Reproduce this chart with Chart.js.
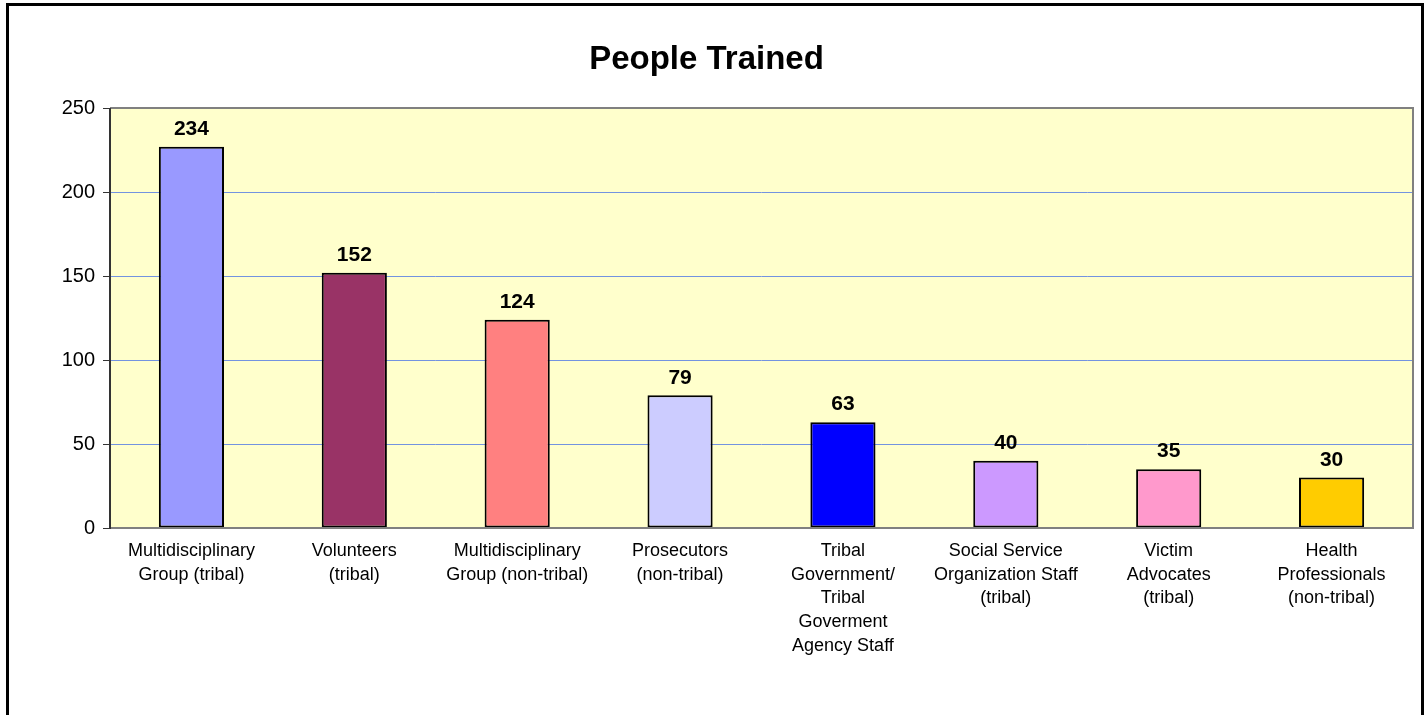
<!DOCTYPE html>
<html>
<head>
<meta charset="utf-8">
<script src="https://cdn.jsdelivr.net/npm/chart.js@4/dist/chart.umd.min.js"></script>
<style>
  html, body { margin: 0; padding: 0; background: #fff; }
  #wrap { width: 1427px; height: 715px; }
</style>
</head>
<body>
<div id="wrap"><canvas id="chart" width="1427" height="715"></canvas></div>
<script>
// categories (multi-line as in the original)
const categories = [
  ['Multidisciplinary', 'Group (tribal)'],
  ['Volunteers', '(tribal)'],
  ['Multidisciplinary', 'Group (non-tribal)'],
  ['Prosecutors', '(non-tribal)'],
  ['Tribal', 'Government/', 'Tribal', 'Goverment', 'Agency Staff'],
  ['Social Service', 'Organization Staff', '(tribal)'],
  ['Victim', 'Advocates', '(tribal)'],
  ['Health', 'Professionals', '(non-tribal)']
];
// bar heights as drawn, and the numbers printed above them
const barValues = [227, 152, 124, 79, 63, 40, 35, 30];
const labelValues = [234, 152, 124, 79, 63, 40, 35, 30];
const barColors = ['#9999ff', '#993366', '#ff8080', '#ccccff', '#0000ff', '#cc99ff', '#ff99cc', '#ffcc00'];
const yTicks = [0, 50, 100, 150, 200, 250];

const FONT = '"Liberation Sans", Arial, sans-serif';

// white page, black frame, yellow plot area
const framePlugin = {
  id: 'frame',
  beforeDraw(chart) {
    const ctx = chart.ctx;
    const a = chart.chartArea;
    ctx.save();
    ctx.fillStyle = '#fff';
    ctx.fillRect(0, 0, chart.width, chart.height);
    ctx.strokeStyle = '#000';
    ctx.lineWidth = 3;
    ctx.beginPath();
    ctx.moveTo(7.5, 720);
    ctx.lineTo(7.5, 4.5);
    ctx.lineTo(1422.5, 4.5);
    ctx.lineTo(1422.5, 720);
    ctx.stroke();
    ctx.fillStyle = '#ffffcc';
    ctx.fillRect(a.left, a.top, a.right - a.left, a.bottom - a.top);
    ctx.restore();
  },
  afterDatasetsDraw(chart) {
    const ctx = chart.ctx;
    const a = chart.chartArea;
    ctx.save();
    ctx.strokeStyle = '#808080';
    ctx.lineWidth = 2;
    ctx.beginPath();
    ctx.moveTo(a.left, a.top);
    ctx.lineTo(a.right, a.top);
    ctx.lineTo(a.right, a.bottom);
    ctx.lineTo(a.left, a.bottom);
    ctx.stroke();
    ctx.strokeStyle = '#333';
    ctx.beginPath();
    ctx.moveTo(a.left, a.top);
    ctx.lineTo(a.left, a.bottom + 1);
    ctx.stroke();
    // value labels
    ctx.fillStyle = '#000';
    ctx.font = 'bold 21px ' + FONT;
    ctx.textAlign = 'center';
    ctx.textBaseline = 'bottom';
    chart.getDatasetMeta(0).data.forEach((bar, i) => {
      ctx.fillText(String(labelValues[i]), bar.x, bar.y - 7);
    });
    ctx.restore();
  }
};

new Chart(document.getElementById('chart'), {
  type: 'bar',
  data: {
    labels: categories,
    datasets: [{
      label: 'People Trained',
      data: barValues,
      backgroundColor: barColors,
      borderColor: '#000',
      borderWidth: 2,
      borderSkipped: false,
      categoryPercentage: 1,
      barPercentage: 0.4
    }]
  },
  options: {
    responsive: false,
    animation: false,
    layout: { padding: { left: 0, right: 14, top: 0, bottom: 0 } },
    plugins: {
      legend: { display: false },
      tooltip: { enabled: false },
      title: {
        display: true,
        text: 'People Trained',
        color: '#000',
        font: { family: FONT, size: 33, weight: 'bold', lineHeight: 40 / 33 },
        padding: { top: 40, bottom: 28 }
      }
    },
    scales: {
      x: {
        grid: { display: false, drawTicks: false },
        border: { display: false },
        ticks: {
          color: '#000',
          font: { family: FONT, size: 18, lineHeight: 1.32 },
          maxRotation: 0,
          autoSkip: false,
          padding: 11
        },
        afterFit(scale) { scale.height = 187; }
      },
      y: {
        min: 0,
        max: 250,
        afterBuildTicks(scale) { scale.ticks = yTicks.map(v => ({ value: v })); },
        grid: {
          color: '#7393e0',
          lineWidth: 1,
          tickLength: 7,
          tickColor: '#333'
        },
        border: { display: false },
        ticks: {
          color: '#000',
          font: { family: FONT, size: 20 },
          padding: 8
        },
        afterFit(scale) { scale.width = 110; }
      }
    }
  },
  plugins: [framePlugin]
});
</script>
</body>
</html>
